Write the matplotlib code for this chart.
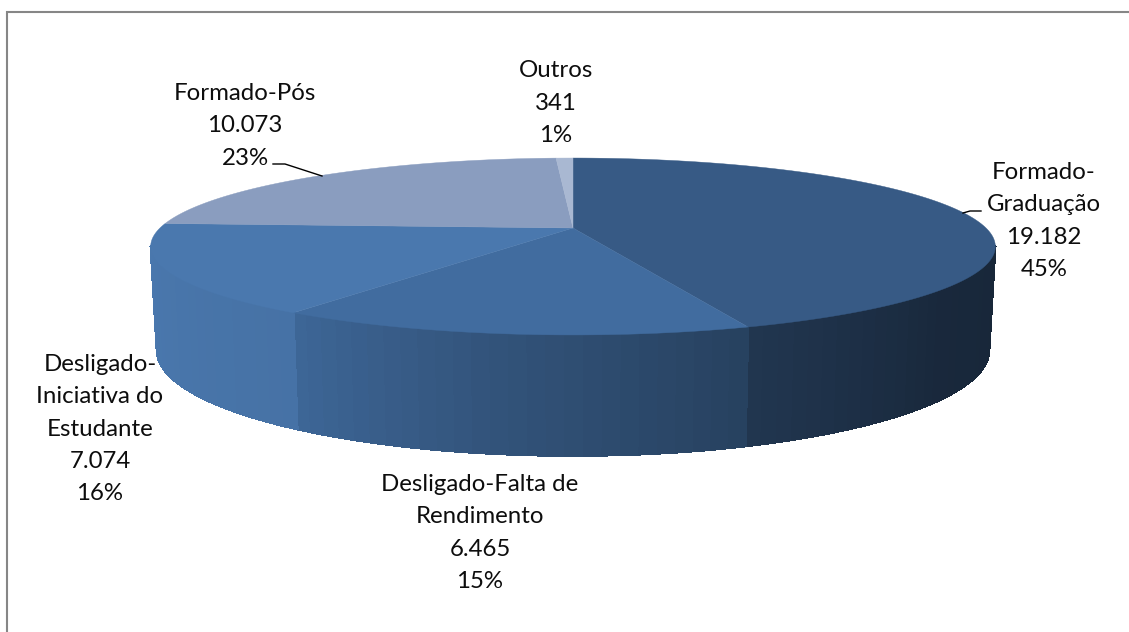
import numpy as np
import matplotlib
matplotlib.use("Agg")
import matplotlib.pyplot as plt
from matplotlib.collections import PolyCollection

categories = ["Formado-\nGraduação", "Desligado-Falta de\nRendimento",
              "Desligado-\nIniciativa do\nEstudante", "Formado-Pós", "Outros"]
values = [19182, 6465, 7074, 10073, 341]
percent_labels = ["45%", "15%", "16%", "23%", "1%"]
value_labels = ["19.182", "6.465", "7.074", "10.073", "341"]
top_colors = ["#375A85", "#416C9F", "#4A78AE", "#8A9DBF", "#A9B8D2"]
label_centers = [(1044, 221), (480, 533), (100, 429), (245, 126), (556, 103)]

W, H = 1129, 632
CX, CY, A, B, K = 573, 228, 413, 84.6, 0.209
CY2, A2, B2 = 328, 407, 101
shade_t = [-168, -124, -100, -70, -40, -12]
shade_f = [1.0, 0.95, 0.78, 0.60, 0.45, 0.43]


def top_pt(t):
    w = 1 + K * np.sin(t)
    return CX + A * np.cos(t) / w, CY - B * np.sin(t) / w


def bottom_pt(t):
    w = 1 + K * np.sin(t)
    return CX + A2 * np.cos(t) / w, CY2 - B2 * np.sin(t) / w


fig = plt.figure(figsize=(W / 100, H / 100), dpi=100, facecolor="white")
ax = fig.add_axes([0, 0, 1, 1])
ax.set_xlim(0, W)
ax.set_ylim(H, 0)
ax.axis("off")
plt.rcParams["font.family"] = ["Lato", "DejaVu Sans"]

ax.plot([6.5, 6.5, W], [H, 11.5, 11.5], color="#868686", lw=1.5, zorder=1,
        solid_capstyle="butt", solid_joinstyle="miter")

total = sum(values)
cum = np.cumsum([0] + values) / total * 2 * np.pi
starts = np.pi / 2 - cum[:-1]
ends = np.pi / 2 - cum[1:]

# side wall: narrow strips, shaded by angle, only on the visible front part
lo, hi = np.radians(-168), np.radians(-12)
polys, cols = [], []
for s, e, c in zip(starts, ends, top_colors):
    a, b = max(e, lo), min(s, hi)
    if a >= b:
        continue
    rgb = np.array(matplotlib.colors.to_rgb(c))
    n = max(2, int(np.degrees(b - a) / 2.0))
    edges = np.linspace(a, b, n + 1)
    for t0, t1 in zip(edges[:-1], edges[1:]):
        ts = np.linspace(t0, t1, 3)
        tx, ty = top_pt(ts)
        bx, by = bottom_pt(ts[::-1])
        polys.append(np.column_stack([np.r_[tx, bx], np.r_[ty, by]]))
        f = np.interp(np.degrees((t0 + t1) / 2), shade_t, shade_f)
        cols.append(rgb * f)
ax.add_collection(PolyCollection(polys, facecolors=cols, edgecolors=cols, linewidths=1.0,
                                 antialiaseds=False, zorder=2))

# top face
for s, e, c in zip(starts, ends, top_colors):
    ts = np.linspace(s, e, 200)
    x, y = top_pt(ts)
    ax.fill(np.r_[CX, x], np.r_[CY, y], facecolor=c, edgecolor=c, lw=0.3, zorder=3)

# data labels
for cat, val, pct, (lx, ly) in zip(categories, value_labels, percent_labels, label_centers):
    ax.text(lx, ly, f"{cat}\n{val}\n{pct}", ha="center", va="center", fontsize=17.3,
            color="#0d0d0d", linespacing=1.67, zorder=5)

# leader lines
ax.plot([273, 285, 322], [164, 164, 176], color="black", lw=1, zorder=4)
ax.plot([981, 970, 963], [211, 211, 213], color="black", lw=1, zorder=4)

fig.savefig("out.png", dpi=100)
